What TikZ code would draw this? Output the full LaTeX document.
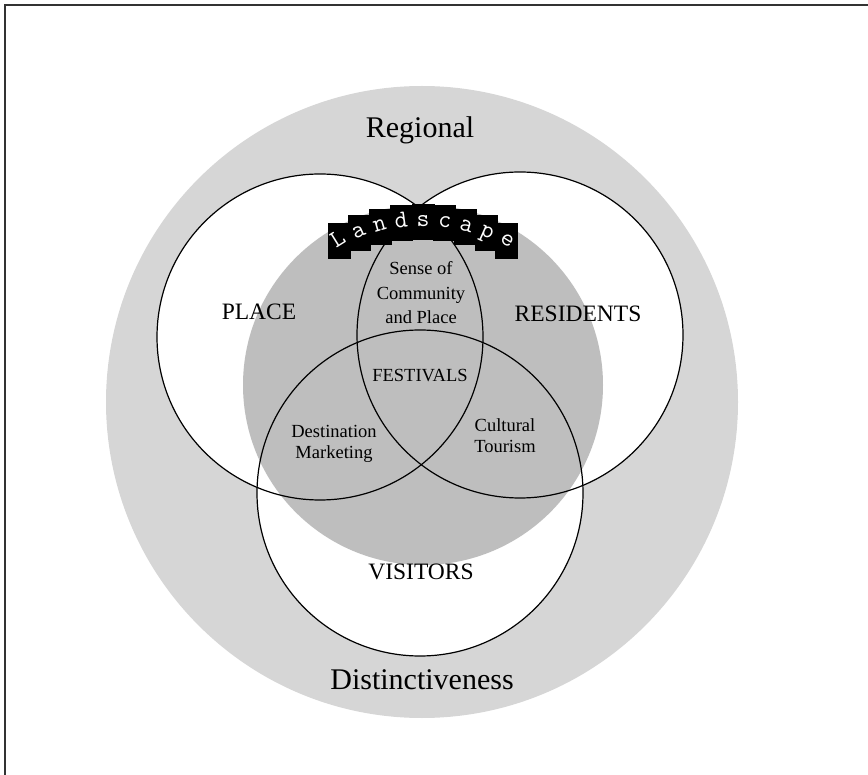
\documentclass[tikz,border=0pt]{standalone}
\usepackage{fontspec}
\setmainfont{Liberation Serif}
\usepackage{xcolor}
\definecolor{ringGray}{HTML}{D6D6D6}
\definecolor{coreGray}{HTML}{BEBEBE}
\definecolor{frameGray}{HTML}{333333}

\begin{document}
\begin{tikzpicture}[
x=1pt, y=-1pt,
disc/.style={circle, inner sep=0pt, outer sep=0pt, minimum size=326pt},
ring/.style={disc, draw=black, line width=1.2pt},
bigLabel/.style={anchor=base, font=\fontsize{30}{36}\selectfont},
setLabel/.style={anchor=base, font=\fontsize{23.5}{28}\selectfont},
lensLabel/.style={align=center, inner sep=0pt, font=\fontsize{18.5}{24.5}\selectfont},
stampbox/.style={fill=black, minimum width=23pt, minimum height=36pt, inner sep=0pt, outer sep=0pt},
stamp/.style={text=white, inner sep=0pt, text height=11pt, text depth=2pt, font=\ttfamily\fontsize{25}{25}\selectfont}
]
\useasboundingbox (0,0) rectangle (868,775);
% page frame (top and left edge only)
\draw[frameGray, line width=1.4pt] (868,5) -- (5,5) -- (5,775);

% Regional ring and white sets
\node[disc, fill=ringGray, minimum size=632pt] (outer) at (422,402) {};
\node[disc, fill=white] (placeFill) at (320,337) {};
\node[disc, fill=white] (resFill) at (520,335) {};
\node[disc, fill=white] (visFill) at (420,493) {};

% landscape core over the sets
\node[disc, fill=coreGray, minimum size=360pt] (core) at (423,385) {};

% set outlines
\node[ring] (place) at (placeFill) {};
\node[ring] (residents) at (resFill) {};
\node[ring] (visitors) at (visFill) {};

% Landscape stamp letters along the arc
\foreach \ch [count=\i from 0] in {L,a,n,d,s,c,a,p,e}{
  \pgfmathsetmacro\ang{90+(4-\i)*6.5}
  \pgfmathsetmacro\px{423+191*cos(\ang)}
  \pgfmathsetmacro\py{413-191*sin(\ang)}
  \node[stampbox] (box\i) at (\px,\py) {};
}
\foreach \ch [count=\i from 0] in {L,a,n,d,s,c,a,p,e}{
  \pgfmathsetmacro\rot{(4-\i)*8}
  \node[stamp, rotate=\rot] (let\i) at (box\i) {\ch};
}

% labels
\node[bigLabel] (regional) at (420,138) {Regional};
\node[bigLabel] (distinct) at (422,689) {Distinctiveness};
\node[setLabel] (placeLbl) at (259,320) {PLACE};
\node[setLabel] (resLbl) at (578,322) {RESIDENTS};
\node[setLabel] (visLbl) at (421,579) {VISITORS};
\node[lensLabel] (sense) at (421,293) {Sense of\\Community\\and Place};
\node[lensLabel, anchor=base] (fest) at (420,382) {FESTIVALS};
\node[lensLabel, font=\fontsize{18.5}{21}\selectfont] (dest) at (334,444) {Destination\\Marketing};
\node[lensLabel, font=\fontsize{18.5}{21}\selectfont] (cult) at (505,436) {Cultural\\Tourism};

\end{tikzpicture}
\end{document}
